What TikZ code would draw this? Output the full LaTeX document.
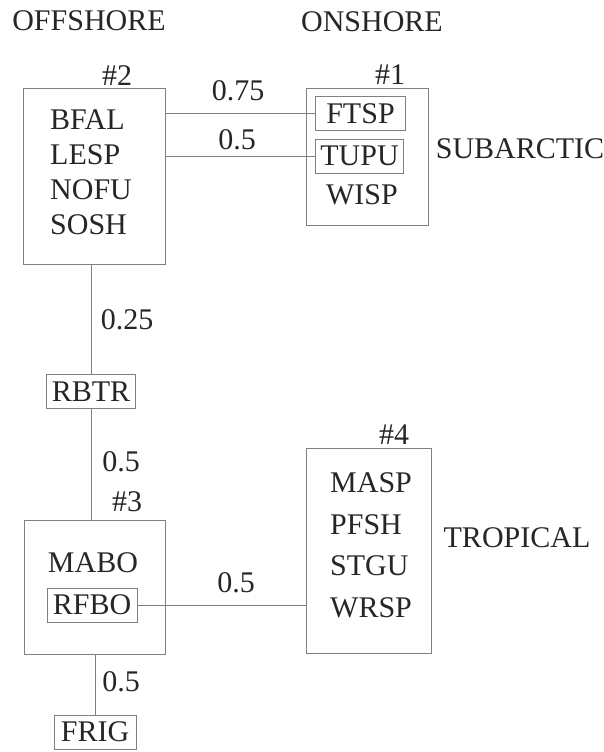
\documentclass[tikz,border=0pt]{standalone}
\usepackage{fontspec}
\setmainfont{Liberation Serif}
\newfontfamily\timesfont{Liberation Serif}
\begin{document}
\begin{tikzpicture}[x=1pt,y=-1pt,
  txt/.style={font=\timesfont\fontsize{30}{36}\selectfont, text=black!85, inner sep=0pt},
  region/.style={draw=black!50, line width=1pt, inner sep=0pt},
  tag/.style={txt, draw=black!50, line width=1pt, inner sep=0pt, minimum height=34pt},
  link/.style={draw=black!50, line width=1pt}]
\useasboundingbox (0,0) rectangle (604,752);
% headings
\node[txt] (off) at (89,21) {OFFSHORE};
\node[txt] (on) at (372,22) {ONSHORE};
% region #2
\node[region, minimum width=142pt, minimum height=176pt] (b2) at (94,176) {};
\node[txt] (n2) at (117,76) {\#2};
\node[txt, anchor=west] (bfal) at (50,120) {BFAL};
\node[txt, anchor=west] (lesp) at (50,155) {LESP};
\node[txt, anchor=west] (nofu) at (50,190) {NOFU};
\node[txt, anchor=west] (sosh) at (50,225) {SOSH};
% region #1
\node[region, minimum width=122pt, minimum height=137pt] (b1) at (367,156.5) {};
\node[txt] (n1) at (390,75) {\#1};
\node[tag, minimum width=90pt, anchor=west] (ftsp) at (315,113.5) {FTSP};
\node[tag, minimum width=88pt, anchor=west] (tupu) at (315,156) {TUPU};
\node[txt] (wisp) at (362,195) {WISP};
\node[txt] (sub) at (520,149) {SUBARCTIC};
% links top
\draw[link] (b2.east |- ftsp.west) -- (ftsp.west);
\draw[link] (b2.east |- tupu.west) -- (tupu.west);
\node[txt] (l075) at (238,91) {0.75};
\node[txt] (l05a) at (237,140) {0.5};
% RBTR
\node[tag, minimum width=89pt] (rbtr) at (91,391.5) {RBTR};
\draw[link] (b2.south -| rbtr.north) -- (rbtr.north);
\node[txt] (l025) at (127,320) {0.25};
% region #3
\node[region, minimum width=141pt, minimum height=134pt] (b3) at (94.5,587) {};
\node[txt] (n3) at (127,502) {\#3};
\draw[link] (rbtr.south) -- (rbtr.south |- b3.north);
\node[txt] (l05b) at (121,462) {0.5};
\node[txt] (mabo) at (93,563) {MABO};
\node[tag, minimum width=90pt] (rfbo) at (92,605) {RFBO};
% region #4
\node[region, minimum width=125pt, minimum height=205pt] (b4) at (368.5,550.5) {};
\node[txt] (n4) at (394,435) {\#4};
\node[txt, anchor=west] (masp) at (330,483) {MASP};
\node[txt, anchor=west] (pfsh) at (330,525) {PFSH};
\node[txt, anchor=west] (stgu) at (330,566) {STGU};
\node[txt, anchor=west] (wrsp) at (330,608) {WRSP};
\node[txt] (trop) at (517,538) {TROPICAL};
\draw[link] (rfbo.east) -- (rfbo.east -| b4.west);
\node[txt] (l05c) at (236,583) {0.5};
% FRIG
\node[tag, minimum width=82pt] (frig) at (95,732) {FRIG};
\draw[link] (b3.south -| frig.north) -- (frig.north);
\node[txt] (l05d) at (121,682) {0.5};
\end{tikzpicture}
\end{document}
